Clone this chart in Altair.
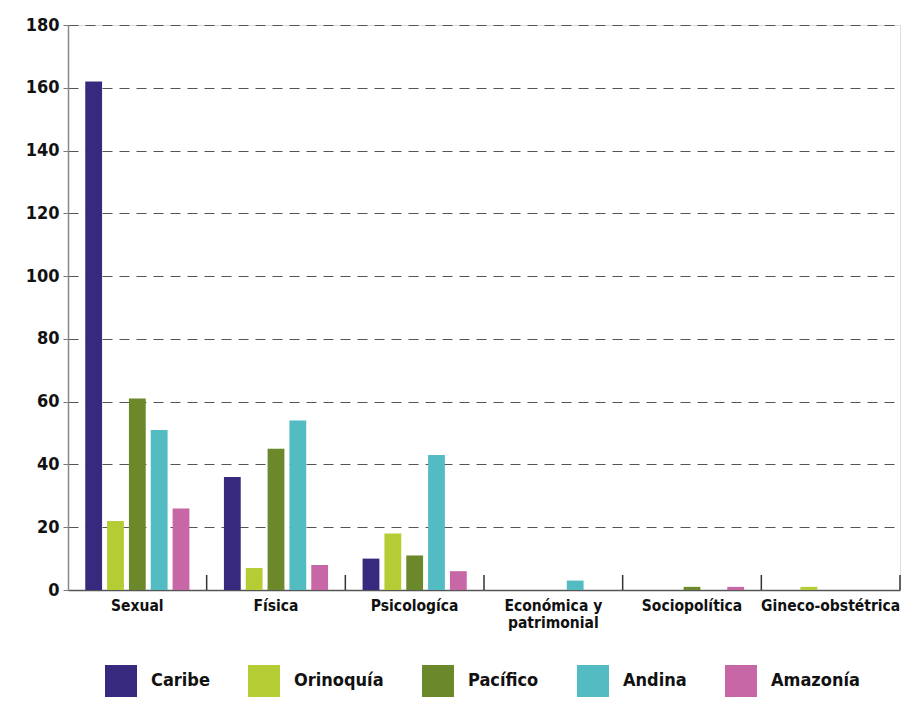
import altair as alt
import pandas as pd

categories = ["Sexual", "Física", "Psicologíca", "Económica y patrimonial", "Sociopolítica", "Gineco-obstétrica"]
regions = ["Caribe", "Orinoquía", "Pacífico", "Andina", "Amazonía"]
colors = ["#372A7E", "#B5CC34", "#6B882B", "#52BCC2", "#C867A6"]

caribe = [162, 36, 10, 0, 0, 0]
orinoquia = [22, 7, 18, 0, 0, 1]
pacifico = [61, 45, 11, 0, 1, 0]
andina = [51, 54, 43, 3, 0, 0]
amazonia = [26, 8, 6, 0, 1, 0]

series = [caribe, orinoquia, pacifico, andina, amazonia]
rows = []
for r, vals in zip(regions, series):
    for c, v in zip(categories, vals):
        rows.append({"cat": c, "region": r, "value": v})
df = pd.DataFrame(rows)

FONT = "Liberation Sans Narrow, DejaVu Sans Condensed, sans-serif"
H = 565
W = 832

xscale = alt.Scale(domain=categories, paddingInner=0, paddingOuter=0)

bars = alt.Chart(df).mark_bar().encode(
    x=alt.X("cat:N", scale=xscale, sort=categories,
            axis=alt.Axis(title=None, ticks=False, labelAngle=0, labelFontSize=15.5,
                          labelFontWeight="bold", labelColor="#111", labelFont=FONT,
                          labelPadding=8, domainColor="#555", domainWidth=1.5,
                          labelExpr="datum.value == 'Económica y patrimonial' ? ['Económica y', 'patrimonial'] : datum.label")),
    xOffset=alt.XOffset("region:N", sort=regions,
                        scale=alt.Scale(paddingInner=0.23, paddingOuter=0.79)),
    y=alt.Y("value:Q", scale=alt.Scale(domain=[0, 180]),
            axis=alt.Axis(title=None, values=list(range(0, 181, 20)), grid=True,
                          gridDash=[10, 7], gridColor="#555", gridWidth=1,
                          labelFontSize=18, labelFontWeight="bold", labelColor="#111",
                          labelFont=FONT, tickSize=5, tickColor="#777", domainColor="#888",
                          domainWidth=1.5, labelPadding=4)),
    color=alt.Color("region:N", sort=regions,
                    scale=alt.Scale(domain=regions, range=colors),
                    legend=alt.Legend(title=None, orient="none", direction="horizontal",
                                      legendX=37, legendY=640, symbolType="square",
                                      symbolSize=1024, symbolStrokeWidth=0,
                                      symbolOpacity=1, labelFontSize=18,
                                      labelFontWeight="bold", labelFont=FONT,
                                      labelColor="#111", columnPadding=38,
                                      labelOffset=14)),
)

bdf = pd.DataFrame({"cat": categories[1:]})
edge = pd.DataFrame({"cat": categories[-1:]})

ticks0 = alt.Chart(bdf).mark_rule(color="#333", strokeWidth=1.5).encode(
    x=alt.X("cat:N", scale=xscale, sort=categories, bandPosition=0),
    y=alt.value(H - 15), y2=alt.value(H))
ticks1 = alt.Chart(edge).mark_rule(color="#333", strokeWidth=1.5).encode(
    x=alt.X("cat:N", scale=xscale, sort=categories, bandPosition=1),
    y=alt.value(H - 15), y2=alt.value(H))

chart = alt.layer(bars, ticks0, ticks1).properties(
    width=W, height=H,
    autosize=alt.AutoSizeParams(type="none"),
    padding={"left": 60, "top": 17, "right": 3, "bottom": 107},
).configure_view(stroke=None).configure(background="white")

chart.save("out.html", embed_options={"renderer": "svg", "actions": False})
